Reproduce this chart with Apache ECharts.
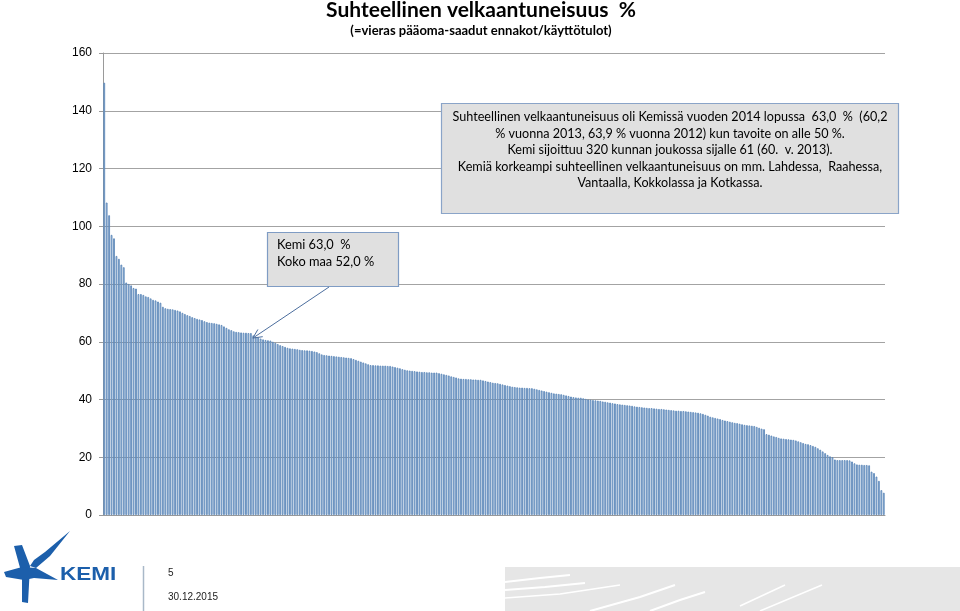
<!DOCTYPE html>
<html><head><meta charset="utf-8">
<script src="https://cdn.jsdelivr.net/npm/echarts@6/dist/echarts.min.js"></script>
<style>html,body{margin:0;padding:0;background:#fff}#c{width:960px;height:611px}</style>
</head><body><div id="c"></div>
<script>
// Relative indebtedness (%) of 320 Finnish municipalities, sorted descending
const debtRatio = [
149.7,108.2,103.8,97.0,95.8,89.7,88.7,86.7,85.8,80.5,80.0,79.5,78.6,78.4,76.5,76.5,76.2,75.7,75.5,75.0,
74.5,74.3,73.9,73.5,72.1,71.6,71.4,71.3,71.2,71.0,70.8,70.5,70.0,69.6,69.2,68.9,68.5,68.2,67.9,67.7,
67.5,67.1,66.8,66.6,66.5,66.4,66.2,66.0,65.8,65.3,64.8,64.3,64.0,63.6,63.4,63.3,63.2,63.1,63.1,63.0,
63.0,62.2,61.6,61.5,61.1,60.8,60.6,60.5,60.4,60.0,59.6,59.2,58.8,58.5,58.2,57.9,57.7,57.6,57.5,57.4,
57.2,57.1,57.0,57.0,56.9,56.8,56.6,56.4,56.0,55.6,55.4,55.3,55.2,55.1,55.0,54.9,54.8,54.7,54.6,54.5,
54.4,54.3,54.0,53.7,53.4,53.1,52.8,52.5,52.2,51.9,51.9,51.8,51.8,51.7,51.7,51.7,51.6,51.6,51.4,51.2,
51.0,50.8,50.5,50.3,50.1,50.0,49.9,49.8,49.7,49.6,49.5,49.5,49.4,49.4,49.3,49.3,49.3,49.1,48.9,48.7,
48.5,48.3,48.0,47.8,47.6,47.3,47.2,47.1,47.1,47.0,47.0,46.9,46.9,46.8,46.8,46.6,46.4,46.2,46.0,45.8,
45.7,45.6,45.4,45.2,45.0,44.8,44.6,44.4,44.3,44.2,44.1,44.1,44.0,44.0,43.9,43.9,43.7,43.5,43.3,43.1,
42.9,42.7,42.5,42.3,42.1,42.0,41.9,41.8,41.6,41.4,41.2,41.0,40.8,40.7,40.6,40.6,40.4,40.2,40.0,39.9,
39.8,39.7,39.6,39.5,39.3,39.2,39.0,38.9,38.7,38.6,38.4,38.3,38.2,38.1,38.0,37.9,37.8,37.6,37.5,37.4,
37.3,37.2,37.1,37.0,37.0,36.9,36.8,36.7,36.7,36.6,36.5,36.4,36.3,36.2,36.1,36.1,36.0,36.0,35.9,35.8,
35.7,35.6,35.5,35.4,35.2,35.0,34.7,34.4,34.0,33.8,33.6,33.4,33.2,32.9,32.7,32.5,32.3,32.1,31.9,31.8,
31.6,31.4,31.2,31.1,31.0,30.9,30.8,30.5,30.2,29.9,29.7,28.0,27.8,27.5,27.2,27.0,26.7,26.5,26.4,26.3,
26.2,26.1,26.0,25.8,25.5,25.2,24.9,24.6,24.5,24.2,23.9,23.6,23.1,22.6,22.0,21.4,20.8,20.3,20.0,19.2,
19.0,19.0,19.0,19.0,19.0,18.9,18.5,17.9,17.5,17.4,17.4,17.3,17.3,17.2,15.0,14.5,13.3,11.8,8.6,7.7
];
const yMin = 0, yMax = 160, yStep = 20;
const kemiRankIndex = 60; // Kemi is 61st
const titleText = 'Suhteellinen velkaantuneisuus  %';
const subtitleText = '(=vieras pääoma-saadut ennakot/käyttötulot)';
const noteLines = [
  'Suhteellinen velkaantuneisuus oli Kemissä vuoden 2014 lopussa  63,0  %  (60,2',
  '% vuonna 2013, 63,9 % vuonna 2012) kun tavoite on alle 50 %.',
  'Kemi sijoittuu 320 kunnan joukossa sijalle 61 (60.  v. 2013).',
  'Kemiä korkeampi suhteellinen velkaantuneisuus on mm. Lahdessa,  Raahessa,',
  'Vantaalla, Kokkolassa ja Kotkassa.'
];
const calloutLines = ['Kemi 63,0  %', 'Koko maa 52,0 %'];
const pageNo = '5';
const dateText = '30.12.2015';

const chart = echarts.init(document.getElementById('c'));
const FONT = 'Lato, "Open Sans", sans-serif';

chart.setOption({
  animation: false,
  backgroundColor: '#fff',
  title: {
    text: titleText, subtext: subtitleText, left: 481, top: 0, textAlign: 'center', itemGap: 3,
    textStyle: {fontFamily: FONT, fontWeight: 'bold', fontSize: 21, color: '#000'},
    subtextStyle: {fontFamily: FONT, fontWeight: 'bold', fontSize: 13, color: '#000'},
    padding: [0,0,0,0]
  },
  grid: {left: 103, right: 75, top: 53, bottom: 96, containLabel: false},
  xAxis: {
    type: 'category',
    axisLine: {show: true, lineStyle: {color: '#9a9a9a', width: 1}},
    axisTick: {show: false}, axisLabel: {show: false}, splitLine: {show: false}
  },
  yAxis: {
    type: 'value', min: yMin, max: yMax, interval: yStep,
    axisLine: {show: true, lineStyle: {color: '#9a9a9a', width: 1}},
    axisTick: {show: true, length: 4, lineStyle: {color: '#9a9a9a'}},
    axisLabel: {color: '#000', fontSize: 12, fontFamily: '"Liberation Sans", Arial, sans-serif', margin: 11},
    splitLine: {show: true, lineStyle: {color: '#a3a3a3', width: 1}}
  },
  series: [{
    type: 'bar', data: debtRatio, barCategoryGap: '30%',
    itemStyle: {color: '#c9daf0', borderColor: '#4f7db3', borderWidth: 0.8}
  }]
});

const tip = chart.convertToPixel({seriesIndex: 0}, [kemiRankIndex, debtRatio[kemiRankIndex]]);
const tx = tip[0] + 2, ty = tip[1] + 5;
const sx = 329, sy = 287;
const ang = Math.atan2(ty - sy, tx - sx);
const ah = 10, aw = 0.45;
const arrowHead = [
  [tx - ah * Math.cos(ang - aw), ty - ah * Math.sin(ang - aw)],
  [tx, ty],
  [tx - ah * Math.cos(ang + aw), ty - ah * Math.sin(ang + aw)]
];

const logoBlue = '#1c5fab';
chart.setOption({
  graphic: [
    // note box
    {type: 'rect', shape: {x: 441.5, y: 103.5, width: 457, height: 110}, style: {fill: '#e0e0e0', stroke: '#8aa4c8', lineWidth: 1.2}, z: 10},
    ...noteLines.map((t, i) => ({type: 'text', x: 670, y: 117 + i * 16.5, z: 11,
      style: {text: t, fill: '#000', font: '12.6px ' + FONT, textAlign: 'center', textVerticalAlign: 'middle'}})),
    // callout box
    {type: 'rect', shape: {x: 267.5, y: 232.5, width: 131, height: 54}, style: {fill: '#e0e0e0', stroke: '#7f9cc4', lineWidth: 1.2}, z: 10},
    ...calloutLines.map((t, i) => ({type: 'text', x: 277, y: 245 + i * 17, z: 11,
      style: {text: t, fill: '#000', font: '12.8px ' + FONT, textAlign: 'left', textVerticalAlign: 'middle'}})),
    {type: 'line', shape: {x1: sx, y1: sy, x2: tx, y2: ty}, style: {stroke: '#4c6e9e', lineWidth: 1}, z: 12},
    {type: 'polyline', shape: {points: arrowHead}, style: {stroke: '#4c6e9e', lineWidth: 1, fill: null}, z: 12},
    // footer band
    {type: 'rect', shape: {x: 505, y: 567, width: 455, height: 44}, style: {fill: '#e6e6e6'}, z: 1},
    {type: 'polyline', shape: {points: [[505,582],[540,578],[570,575]]}, style: {stroke: '#fff', lineWidth: 2}, z: 2},
    {type: 'polyline', shape: {points: [[505,590],[545,587],[585,583]]}, style: {stroke: '#fff', lineWidth: 2}, z: 2},
    {type: 'polyline', shape: {points: [[505,598],[560,594],[620,585]]}, style: {stroke: '#fff', lineWidth: 1.5}, z: 2},
    {type: 'polyline', shape: {points: [[590,611],[640,597],[675,585]]}, style: {stroke: '#fff', lineWidth: 2}, z: 2},
    {type: 'polyline', shape: {points: [[650,611],[680,600],[705,592]]}, style: {stroke: '#fff', lineWidth: 2}, z: 2},
    {type: 'polyline', shape: {points: [[740,606],[785,585]]}, style: {stroke: '#fff', lineWidth: 1.5}, z: 2},
    {type: 'polyline', shape: {points: [[760,611],[822,585]]}, style: {stroke: '#fff', lineWidth: 1.5}, z: 2},
    // logo
    {type: 'polygon', shape: {points: [[70,531],[45,552],[34,560],[30,566],[36,568],[50,556]]}, style: {fill: logoBlue}, z: 3},
    {type: 'polygon', shape: {points: [[14,546],[22,545],[30,566],[28,603],[22,602],[22,575]]}, style: {fill: logoBlue}, z: 3},
    {type: 'polygon', shape: {points: [[4,572],[22,567],[36,568],[58,580],[34,578],[24,580],[6,577]]}, style: {fill: logoBlue}, z: 3},
    {type: 'text', x: 60, y: 575, scaleX: 1.25, style: {text: 'KEMI', fill: logoBlue, font: 'bold 18px "Liberation Sans", Arial, sans-serif', textVerticalAlign: 'middle'}, z: 3},
    {type: 'line', shape: {x1: 143.5, y1: 566, x2: 143.5, y2: 611}, style: {stroke: '#a9b8c8', lineWidth: 1.5}, z: 3},
    {type: 'text', x: 168, y: 573, style: {text: pageNo, fill: '#222', font: '10px "Liberation Sans", Arial, sans-serif', textVerticalAlign: 'middle'}, z: 3},
    {type: 'text', x: 168, y: 597, style: {text: dateText, fill: '#222', font: '10px "Liberation Sans", Arial, sans-serif', textVerticalAlign: 'middle'}, z: 3}
  ]
});
</script>
</body></html>
